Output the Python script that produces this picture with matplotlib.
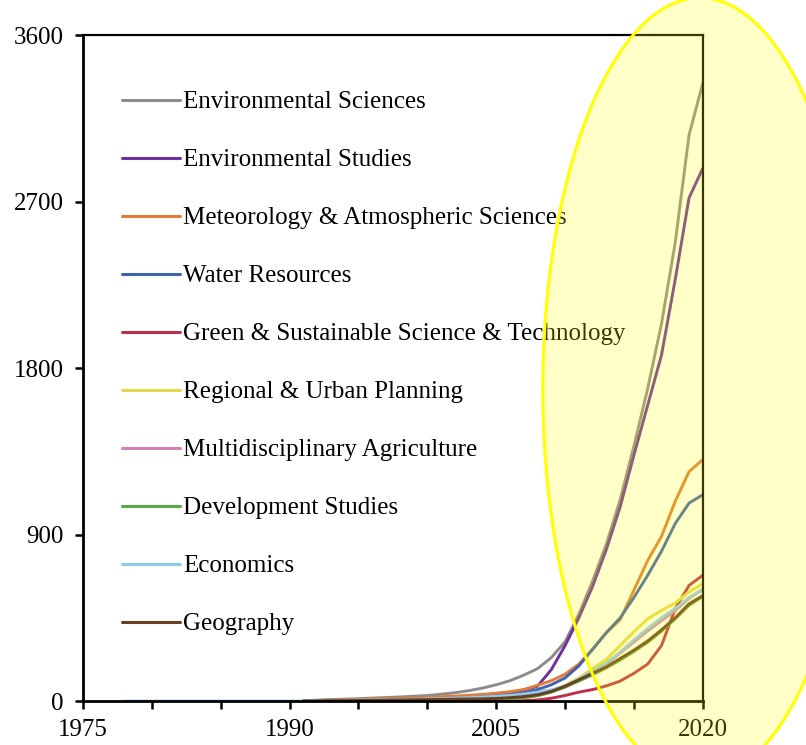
import numpy as np
import matplotlib
matplotlib.use("Agg")
import matplotlib.pyplot as plt
from matplotlib.patches import Ellipse

plt.rcParams['font.family'] = ['Liberation Serif', 'DejaVu Serif']

# yearly counts
years = list(range(1991, 2021))
env_sci = [0, 5, 8, 10, 13, 16, 19, 22, 26, 30, 37, 45, 56, 70, 88, 110, 140, 175, 235, 320,
           470, 650, 850, 1090, 1380, 1690, 2040, 2480, 3060, 3340]
env_stud = [0, 2, 3, 4, 5, 6, 8, 10, 12, 15, 18, 22, 27, 33, 40, 48, 60, 80, 170, 300,
            450, 620, 820, 1050, 1330, 1600, 1870, 2280, 2720, 2880]
meteo = [0, 3, 5, 7, 9, 11, 13, 15, 17, 20, 23, 27, 31, 36, 42, 50, 62, 85, 110, 145,
         200, 280, 370, 440, 600, 760, 890, 1080, 1240, 1305]
water = [0, 1, 2, 3, 4, 5, 6, 7, 9, 11, 13, 15, 18, 22, 27, 34, 45, 62, 88, 125,
         190, 280, 370, 450, 560, 680, 810, 960, 1070, 1115]
green_sust = [0, 0, 0, 0, 0, 0, 0, 0, 0, 0, 0, 0, 0, 0, 1, 1, 2, 6, 15, 30,
              48, 62, 82, 108, 150, 200, 300, 500, 625, 680]
regional = [0, 1, 2, 3, 4, 5, 6, 7, 8, 9, 10, 12, 14, 16, 19, 23, 28, 38, 55, 85,
            125, 175, 225, 300, 375, 445, 490, 530, 590, 635]
agri = [0, 1, 2, 2, 3, 4, 5, 6, 7, 8, 9, 10, 11, 13, 15, 19, 25, 34, 52, 80,
        112, 155, 200, 260, 320, 380, 435, 490, 555, 605]
devel = [0, 1, 1, 2, 2, 3, 3, 4, 5, 5, 6, 7, 8, 9, 10, 13, 18, 28, 48, 75,
         108, 142, 180, 222, 268, 318, 378, 445, 518, 565]
econ_years = list(range(1978, 2021))
econ = [0] * 14 + [2, 3, 4, 5, 6, 7, 8, 10, 12, 14, 16, 19, 22, 26, 31, 38, 48, 60, 82,
                   118, 162, 205, 265, 330, 392, 450, 500, 560, 600]
geog = [0, 1, 2, 2, 3, 4, 5, 6, 7, 8, 9, 10, 11, 12, 14, 18, 24, 34, 52, 80,
        115, 150, 185, 230, 275, 325, 385, 450, 525, 570]

labels = ['Environmental Sciences', 'Environmental Studies', 'Meteorology & Atmospheric Sciences',
          'Water Resources', 'Green & Sustainable Science & Technology', 'Regional & Urban Planning',
          'Multidisciplinary Agriculture', 'Development Studies', 'Economics', 'Geography']
colors = ['#8c8c8c', '#7030a0', '#e07b39', '#3f62ad', '#c0304a', '#e6d84a',
          '#d87fb0', '#5aa846', '#92c8e8', '#6b3f22']
series = [(years, env_sci), (years, env_stud), (years, meteo), (years, water),
          (years, green_sust), (years, regional), (years, agri), (years, devel),
          (econ_years, econ), (years, geog)]

fig = plt.figure(figsize=(8.06, 7.45), dpi=100)
ax = fig.add_axes([0.103, 0.059, 0.769, 0.894])

for (x, y), lab, c in zip(series, labels, colors):
    ax.plot(x, y, color=c, lw=2.1, label=lab, solid_capstyle='round', solid_joinstyle='round')

ax.set_xlim(1975, 2020)
ax.set_ylim(0, 3600)
ax.set_xticks([1975, 1990, 2005, 2020])
ax.set_xticks(np.arange(1975, 2021, 5), minor=True)
ax.set_yticks([0, 900, 1800, 2700, 3600])
ax.tick_params(axis='both', which='both', direction='out', length=6, width=1.8,
               labelsize=18, colors='black')
ax.tick_params(axis='x', pad=7)
ax.tick_params(axis='y', pad=8)
for s in ['left', 'bottom']:
    ax.spines[s].set_linewidth(2.0)
for s in ['top', 'right']:
    ax.spines[s].set_linewidth(1.6)

leg = ax.legend(loc='upper left', bbox_to_anchor=(0.063, 0.916), frameon=False,
                fontsize=18, handlelength=2.3, handletextpad=0.15, labelspacing=1.42,
                borderpad=0, borderaxespad=0)
for h in leg.get_lines():
    h.set_linewidth(2.2)

# yellow highlight over the last years
ell = Ellipse((0.8685, 0.478), 0.39, 1.05, transform=fig.transFigure,
              facecolor=(1, 1, 0, 0.22), edgecolor='#ffff00', lw=2.2, zorder=10)
fig.add_artist(ell)

fig.savefig('out.png', dpi=100)
